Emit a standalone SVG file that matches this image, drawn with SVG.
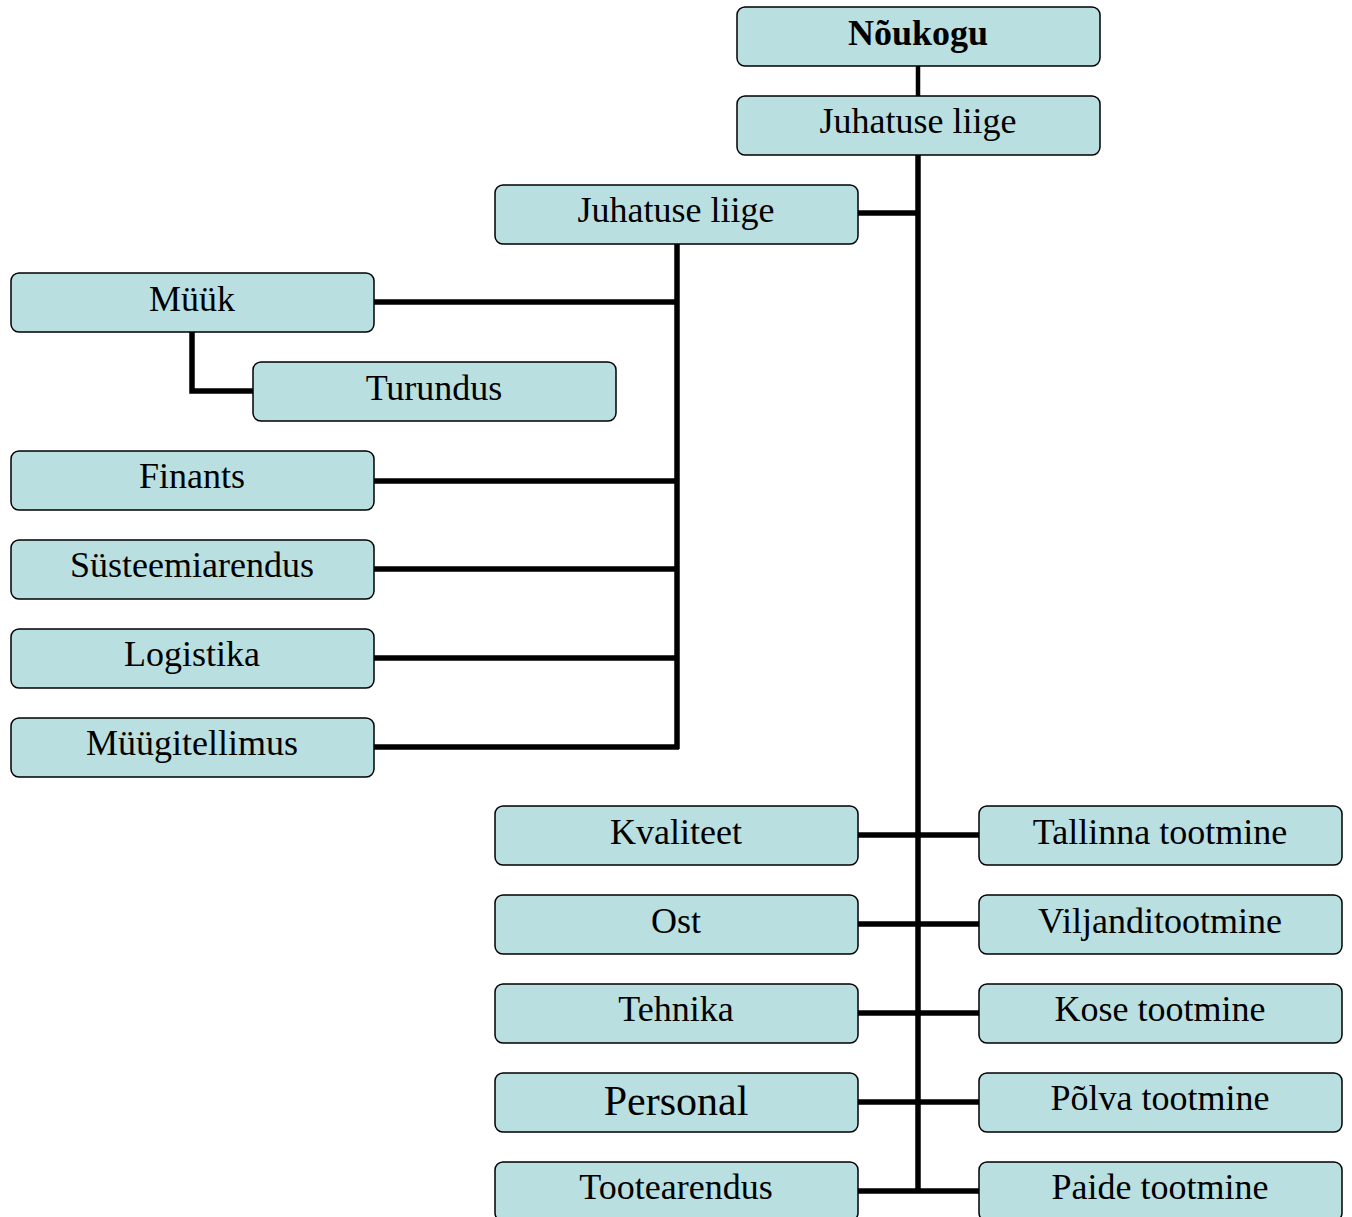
<svg xmlns="http://www.w3.org/2000/svg" width="1352" height="1217" viewBox="0 0 1352 1217">
<style>
.box{fill:#B9DFE1;stroke:#000;stroke-width:1.5}
.t{font-family:"Liberation Serif","Times New Roman",serif;font-size:36px;text-anchor:middle;fill:#000}
.c{stroke:#000;stroke-width:5.5;fill:none}
</style>
<rect width="1352" height="1217" fill="#fff"/>
<g id="connectors">
<line class="c" x1="918" y1="66" x2="918" y2="96" style="stroke-width:4.5"/>
<line class="c" x1="918" y1="155" x2="918" y2="1193"/>
<line class="c" x1="858" y1="213" x2="918" y2="213"/>
<line class="c" x1="677" y1="244" x2="677" y2="749"/>
<line class="c" x1="374" y1="302" x2="679" y2="302"/>
<line class="c" x1="374" y1="481" x2="679" y2="481"/>
<line class="c" x1="374" y1="569" x2="679" y2="569"/>
<line class="c" x1="374" y1="658" x2="679" y2="658"/>
<line class="c" x1="374" y1="747" x2="679" y2="747"/>
<polyline class="c" points="192,332 192,391 253,391"/>
<line class="c" x1="858" y1="835" x2="979" y2="835"/>
<line class="c" x1="858" y1="924" x2="979" y2="924"/>
<line class="c" x1="858" y1="1013" x2="979" y2="1013"/>
<line class="c" x1="858" y1="1102" x2="979" y2="1102"/>
<line class="c" x1="858" y1="1191" x2="979" y2="1191"/>
</g>
<g id="noukogu"><rect class="box" x="737" y="7" width="363" height="59" rx="8"/><text class="t" x="918" y="45" font-weight="bold">Nõukogu</text></g>
<g id="juhatuse1"><rect class="box" x="737" y="96" width="363" height="59" rx="8"/><text class="t" x="918" y="133">Juhatuse liige</text></g>
<g id="juhatuse2"><rect class="box" x="495" y="185" width="363" height="59" rx="8"/><text class="t" x="676" y="222">Juhatuse liige</text></g>
<g id="muuk"><rect class="box" x="11" y="273" width="363" height="59" rx="8"/><text class="t" x="192" y="311">Müük</text></g>
<g id="turundus"><rect class="box" x="253" y="362" width="363" height="59" rx="8"/><text class="t" x="434" y="400">Turundus</text></g>
<g id="finants"><rect class="box" x="11" y="451" width="363" height="59" rx="8"/><text class="t" x="192" y="488">Finants</text></g>
<g id="systeemiarendus"><rect class="box" x="11" y="540" width="363" height="59" rx="8"/><text class="t" x="192" y="577">Süsteemiarendus</text></g>
<g id="logistika"><rect class="box" x="11" y="629" width="363" height="59" rx="8"/><text class="t" x="192" y="666">Logistika</text></g>
<g id="muugitellimus"><rect class="box" x="11" y="718" width="363" height="59" rx="8"/><text class="t" x="192" y="755">Müügitellimus</text></g>
<g id="kvaliteet"><rect class="box" x="495" y="806" width="363" height="59" rx="8"/><text class="t" x="676" y="844">Kvaliteet</text></g>
<g id="ost"><rect class="box" x="495" y="895" width="363" height="59" rx="8"/><text class="t" x="676" y="933">Ost</text></g>
<g id="tehnika"><rect class="box" x="495" y="984" width="363" height="59" rx="8"/><text class="t" x="676" y="1021">Tehnika</text></g>
<g id="personal"><rect class="box" x="495" y="1073" width="363" height="59" rx="8"/><text class="t" x="676" y="1115" style="font-size:42px">Personal</text></g>
<g id="tootearendus"><rect class="box" x="495" y="1162" width="363" height="59" rx="8"/><text class="t" x="676" y="1199">Tootearendus</text></g>
<g id="tallinna"><rect class="box" x="979" y="806" width="363" height="59" rx="8"/><text class="t" x="1160" y="844">Tallinna tootmine</text></g>
<g id="viljandi"><rect class="box" x="979" y="895" width="363" height="59" rx="8"/><text class="t" x="1160" y="933">Viljanditootmine</text></g>
<g id="kose"><rect class="box" x="979" y="984" width="363" height="59" rx="8"/><text class="t" x="1160" y="1021">Kose tootmine</text></g>
<g id="polva"><rect class="box" x="979" y="1073" width="363" height="59" rx="8"/><text class="t" x="1160" y="1110">Põlva tootmine</text></g>
<g id="paide"><rect class="box" x="979" y="1162" width="363" height="59" rx="8"/><text class="t" x="1160" y="1199">Paide tootmine</text></g>
</svg>
